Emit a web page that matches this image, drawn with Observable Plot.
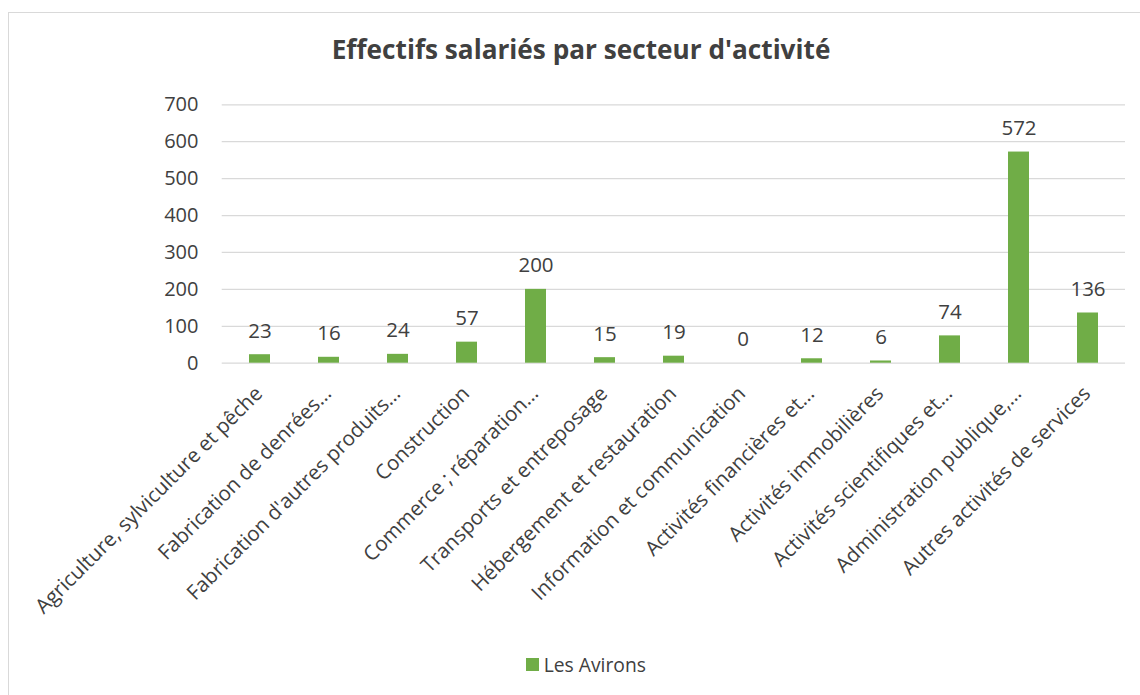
<!DOCTYPE html>
<html>
<head>
<meta charset="utf-8">
<script src="https://cdn.jsdelivr.net/npm/d3@7"></script>
<script src="https://cdn.jsdelivr.net/npm/@observablehq/plot@0.6"></script>
<style>
  html, body { margin: 0; padding: 0; background: #fff; width: 1140px; height: 695px; overflow: hidden; font-family: "Open Sans", sans-serif; }
  #frame { position: absolute; left: 8px; top: 12px; width: 1200px; height: 720px; border: 1.3px solid #d9d9d9; box-sizing: border-box; }
  #title { position: absolute; top: 34px; left: 581px; transform: translateX(-50%); white-space: nowrap; font-size: 26.2px; font-weight: bold; color: #404040; line-height: 1.2; }
  #chart { position: absolute; left: 0; top: 0; }
  #legend { position: absolute; left: 526px; top: 651px; display: flex; align-items: center; font-size: 19.3px; color: #404040; white-space: nowrap; }
  #legend .sw { width: 12.7px; height: 12.7px; background: #70AD47; margin-right: 5px; }
</style>
</head>
<body>
<div id="frame"></div>
<div id="title">Effectifs salariés par secteur d'activité</div>
<div id="chart"></div>
<div id="legend"><span class="sw"></span><span id="legtext"></span></div>
<script>
const categories = [
  "Agriculture, sylviculture et pêche",
  "Fabrication de denrées…",
  "Fabrication d'autres produits…",
  "Construction",
  "Commerce ; réparation…",
  "Transports et entreposage",
  "Hébergement et restauration",
  "Information et communication",
  "Activités financières et…",
  "Activités immobilières",
  "Activités scientifiques et…",
  "Administration publique,…",
  "Autres activités de services"
];
const values = [23, 16, 24, 57, 200, 15, 19, 0, 12, 6, 74, 572, 136];
const seriesName = "Les Avirons";
const yTicks = [0, 100, 200, 300, 400, 500, 600, 700];

const data = categories.map((c, i) => ({category: c, value: values[i]}));
const textColor = "#404040";
const barColor = "#70AD47";
const gridColor = "#d9d9d9";

const H = 640;
const chart = Plot.plot({
  width: 1140,
  height: H,
  marginTop: 104.3,
  marginBottom: H - 362.7,
  marginLeft: 221.7,
  marginRight: 15,
  style: { fontFamily: "'Open Sans', sans-serif", color: textColor, background: "transparent", overflow: "visible" },
  x: { domain: categories, paddingInner: 0.69, paddingOuter: 0.345, axis: null },
  y: { domain: [0, 700], ticks: yTicks, axis: null },
  marks: [
    Plot.gridY(yTicks, { stroke: gridColor, strokeOpacity: 1, strokeWidth: 1.3 }),
    Plot.axisY(yTicks, { tickSize: 0, tickPadding: 23.7, fontSize: 20, fill: textColor, label: null }),
    Plot.barY(data, { x: "category", y: "value", fill: barColor }),
    Plot.text(data, { x: "category", y: "value", text: d => String(d.value), dy: -17, lineAnchor: "bottom", fontSize: 20.5, fill: textColor }),
    Plot.text(data, { x: "category", y: () => 0, text: "category", rotate: -45, textAnchor: "end", lineAnchor: "middle", dx: -1, dy: 27, fontSize: 20.5, fill: textColor })
  ]
});
document.getElementById("chart").appendChild(chart);
document.getElementById("legtext").textContent = seriesName;
</script>
</body>
</html>
